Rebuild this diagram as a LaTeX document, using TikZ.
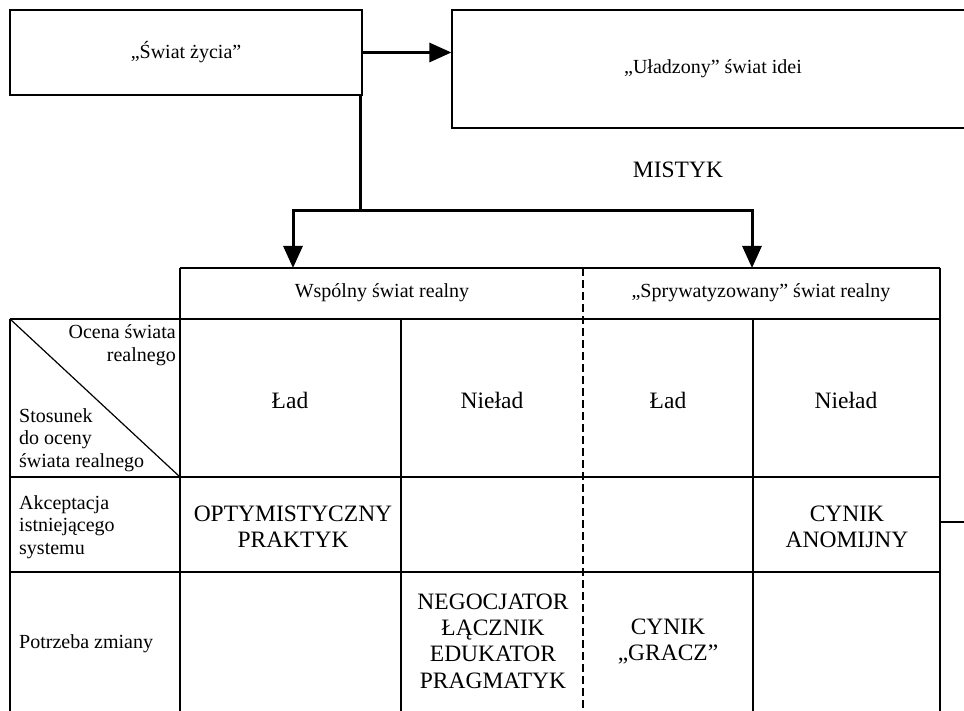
\documentclass[tikz,border=0pt]{standalone}
\usepackage{fontspec}
\setmainfont{Liberation Serif}
\usetikzlibrary{arrows.meta}

\tikzset{
  box/.style={draw, line width=1.2pt, inner sep=0pt},
  flow/.style={line width=3pt},
  tip/.style={-{Triangle[length=22pt,width=19pt]}},
  rule/.style={line width=1.2pt},
  lab/.style={font=\fontsize{20}{22.5}\selectfont, inner sep=0pt},
  cell/.style={font=\fontsize{23.5}{26.3}\selectfont, inner sep=0pt, align=center},
}

\begin{document}
\begin{tikzpicture}[x=1pt, y=-1pt]
    \clip (0,0) rectangle (964,711);

    % Pola u gory
    \node[box, lab, minimum width=352pt, minimum height=85pt] (zycie) at (186,52.5) {„Świat życia”};
    \node[box, lab, minimum width=522pt, minimum height=118pt] (idee) at (713,69) {„Uładzony” świat idei};
    \node[cell] (mistyk) at (678,170) {MISTYK};

    % Strzalki
    \coordinate (rozwidlenie) at (360,211);
    \coordinate (lewy) at (293,268);
    \coordinate (prawy) at (752,268);
    \draw[flow, tip] (zycie.east) -- (zycie.east -| idee.west);
    \draw[flow] (zycie.south -| rozwidlenie) -- (rozwidlenie);
    \draw[flow, tip] (rozwidlenie) -| (lewy);
    \draw[flow, tip] (rozwidlenie) -| (prawy);

    % Linie tabeli
    \draw[rule] (180,268) -- (940,268);
    \foreach \y in {319,477,572}
        \draw[rule] (10,\y) -- (940,\y);
    \draw[rule] (10,319) -- (10,720);
    \foreach \x in {180,940}
        \draw[rule] (\x,268) -- (\x,720);
    \foreach \x in {401,753}
        \draw[rule] (\x,319) -- (\x,720);
    \draw[rule, dash pattern=on 8pt off 4pt] (583,268) -- (583,720);
    \draw[rule] (10,319) -- (180,477);
    \draw[rule] (940,522) -- (970,522);

    % Naglowki
    \node[lab] (wspolny) at (382,293) {Wspólny świat realny};
    \node[lab] (prywatny) at (761,293) {„Sprywatyzowany” świat realny};
    \node[lab, align=right, anchor=east] (ocena) at (176,345) {Ocena świata\\realnego};
    \node[lab, align=left, anchor=west] (stosunek) at (19,440) {Stosunek\\do oceny\\świata realnego};

    \node[cell] (lad1) at (290,400) {Ład};
    \node[cell] (nielad1) at (492,400) {Nieład};
    \node[cell] (lad2) at (668,400) {Ład};
    \node[cell] (nielad2) at (846,400) {Nieład};

    % Wiersze
    \node[lab, align=left, anchor=west] (akceptacja) at (19,527) {Akceptacja\\istniejącego\\systemu};
    \node[lab, anchor=west] (potrzeba) at (19,643.5) {Potrzeba zmiany};

    \node[cell] (praktyk) at (293,526.5) {OPTYMISTYCZNY\\PRAKTYK};
    \node[cell] (anomijny) at (847,526.5) {CYNIK\\ANOMIJNY};
    \node[cell] (negocjator) at (493,641) {NEGOCJATOR\\ŁĄCZNIK\\EDUKATOR\\PRAGMATYK};
    \node[cell] (gracz) at (668,641.5) {CYNIK\\„GRACZ”};
\end{tikzpicture}
\end{document}
